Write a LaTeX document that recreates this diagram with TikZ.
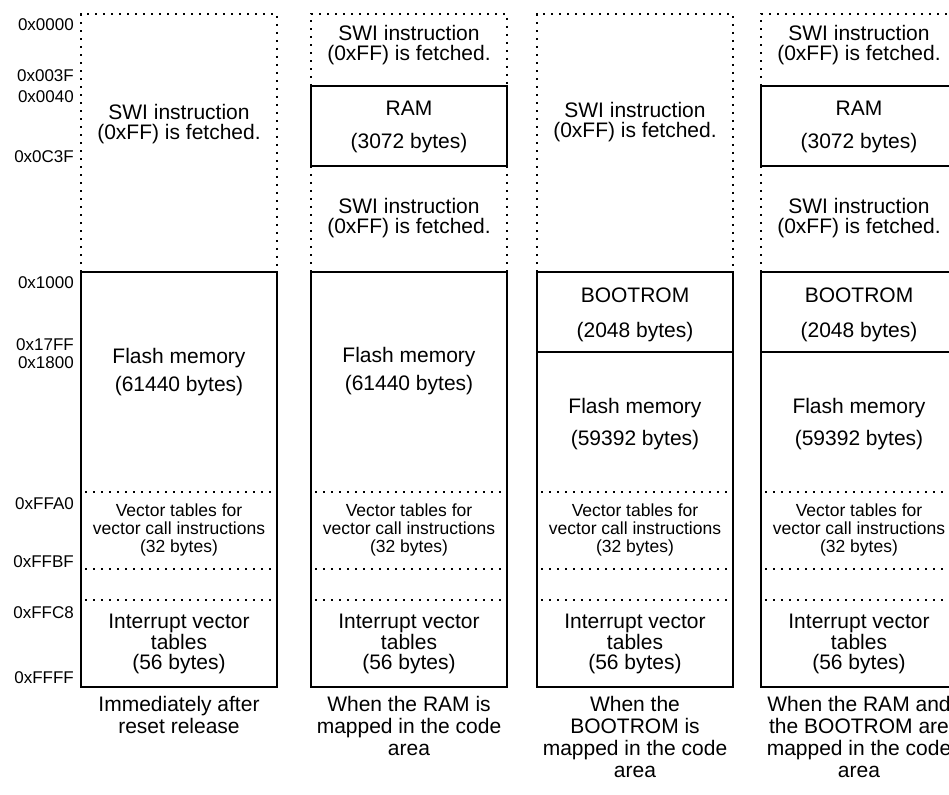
\documentclass[tikz,border=0pt]{standalone}
\usepackage{fontspec}
\setmainfont{Liberation Sans}
\usetikzlibrary{positioning}

\tikzset{
  memline/.style={line width=1.8pt},
  memdots/.style={line width=2.2pt, dash pattern=on 2.2pt off 5.8pt},
  membox/.style={draw, line width=1.8pt, minimum width=196pt, minimum height=415pt,
                 inner sep=0pt, outer sep=0pt, anchor=north west},
  addr/.style={anchor=east, inner sep=0pt, font=\fontsize{17}{17}\selectfont},
  txt/.style={align=center, inner sep=0pt, font=\fontsize{21}{20.5}\selectfont},
  small/.style={align=center, inner sep=0pt, font=\fontsize{17.5}{18}\selectfont},
  caption/.style={align=center, inner sep=0pt, font=\fontsize{21}{22}\selectfont},
}

\begin{document}
\begin{tikzpicture}[x=1pt, y=-1pt]
\path[use as bounding box, clip] (0,0) rectangle (949,794);
\fill[white] (0,0) rectangle (949,794);

% addresses
\foreach \a/\y [count=\i] in {0x0000/25, 0x003F/76, 0x0040/97, 0x0C3F/157,
    0x1000/283, 0x17FF/345, 0x1800/363, 0xFFA0/504, 0xFFBF/562, 0xFFC8/613, 0xFFFF/678}
  \node[addr] (addr\i) at (74,\y) {\a};

% flash part, the same in all four maps
\foreach \xa/\xc [count=\i] in {81/179, 311/409, 537/635, 761/859} {
  \node[membox] (box\i) at (\xa,272) {};
  \foreach \y in {492,569,600}
    \draw[memdots] (\xa+4,\y) -- (\xa+192,\y);
  \node[small] (vec\i) at (\xc,530) {Vector tables for\\vector call instructions\\(32 bytes)};
  \node[txt] (int\i) at (\xc,644) {Interrupt vector\\tables\\(56 bytes)};
}

% map 1
\draw[memdots] (81,272) -- (81,14) -- (277,14) -- (277,272);
\node[txt] (swi1) at (179,124) {SWI instruction\\(0xFF) is fetched.};
\node[txt] (flash1) at (179,372) {Flash memory\\[8pt](61440 bytes)};

% map 2
\draw[memdots] (311,86) -- (311,14) -- (507,14) -- (507,86);
\draw[memdots] (311,166) -- (311,272) (507,166) -- (507,272);
\draw[memline] (311,86) rectangle (507,166);
\node[txt] (swi2a) at (409,45) {SWI instruction\\(0xFF) is fetched.};
\node[txt] (ram2) at (409,127) {RAM\\[12pt](3072 bytes)};
\node[txt] (swi2b) at (409,218) {SWI instruction\\(0xFF) is fetched.};
\node[txt] (flash2) at (409,371) {Flash memory\\[8pt](61440 bytes)};

% map 3
\draw[memdots] (537,272) -- (537,14) -- (733,14) -- (733,272);
\draw[memline] (537,352) -- (733,352);
\node[txt] (swi3) at (635,122) {SWI instruction\\(0xFF) is fetched.};
\node[txt] (boot3) at (635,315) {BOOTROM\\[15pt](2048 bytes)};
\node[txt] (flash3) at (635,424) {Flash memory\\[11pt](59392 bytes)};

% map 4
\draw[memdots] (761,86) -- (761,14) -- (957,14) -- (957,86);
\draw[memdots] (761,166) -- (761,272) (957,166) -- (957,272);
\draw[memline] (761,86) rectangle (957,166);
\draw[memline] (761,352) -- (957,352);
\node[txt] (swi4a) at (859,45) {SWI instruction\\(0xFF) is fetched.};
\node[txt] (ram4) at (859,127) {RAM\\[12pt](3072 bytes)};
\node[txt] (swi4b) at (859,218) {SWI instruction\\(0xFF) is fetched.};
\node[txt] (boot4) at (859,315) {BOOTROM\\[15pt](2048 bytes)};
\node[txt] (flash4) at (859,424) {Flash memory\\[11pt](59392 bytes)};

% captions
\node[caption, below=9pt of box1] (cap1) {Immediately after\\reset release};
\node[caption, below=9pt of box2] (cap2) {When the RAM is\\mapped in the code\\area};
\node[caption, below=9pt of box3] (cap3) {When the\\BOOTROM is\\mapped in the code\\area};
\node[caption, below=9pt of box4] (cap4) {When the RAM and\\the BOOTROM are\\mapped in the code\\area};
\end{tikzpicture}
\end{document}
